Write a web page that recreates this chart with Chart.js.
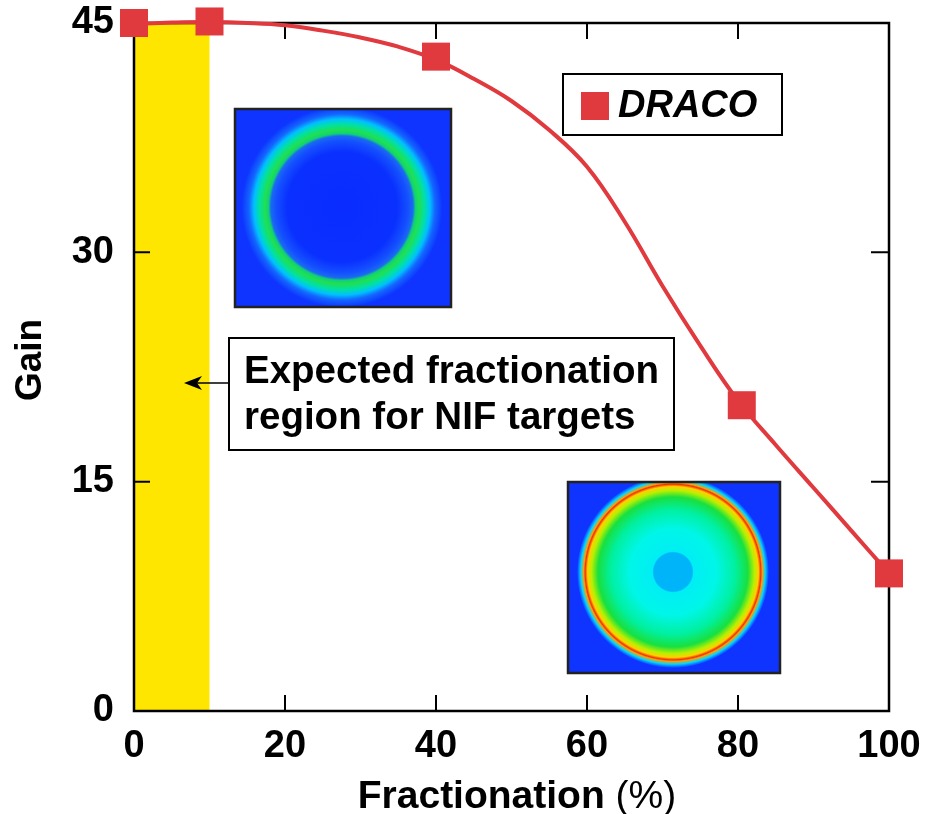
<!DOCTYPE html>
<html>
<head>
<meta charset="utf-8">
<script src="https://cdn.jsdelivr.net/npm/chart.js@4.4.1/dist/chart.umd.min.js"></script>
<style>
  html, body { margin: 0; padding: 0; background: #fff; }
  canvas { display: block; }
</style>
</head>
<body>
<canvas id="myChart" width="928" height="814"></canvas>
<script>
const fracPct = [0, 10, 40, 80.5, 100];
const gainDraco = [45.0, 45.1, 42.8, 20.0, 9.0];
// fitted curve
const fitFrac = [0, 5, 10, 15, 20, 25, 30, 35, 40, 45, 50, 55, 60, 65, 70, 75, 80, 85, 90, 95, 100];
const fitGain = [44.95, 45.03, 45.06, 45.0, 44.85, 44.5, 44.05, 43.45, 42.6, 41.35, 39.9, 38.0, 35.6, 32.0, 27.8, 23.9, 20.3, 17.4, 14.6, 11.8, 9.0];
const xTicks = [0, 20, 40, 60, 80, 100];
const yTicks = [0, 15, 30, 45];
const nifBand = [0, 10];

const FONT = "'Liberation Sans', Arial, Helvetica, sans-serif";
const RED = '#e0393e';
const ctx = document.getElementById('myChart');

const ringA = [
  [0, '#0a2cff'], [0.55, '#0a30ff'], [0.66, '#1450ff'], [0.71, '#1a6af0'],
  [0.735, '#10d078'], [0.77, '#20e050'], [0.83, '#00e0a8'], [0.88, '#00c0ff'],
  [0.93, '#1466ff'], [1, '#0c38ff']
];
const ringB = [
  [0, '#00b4fa'], [0.2, '#00b4fa'], [0.215, '#00eef4'], [0.45, '#00f6e8'],
  [0.65, '#00f0a0'], [0.78, '#18e040'], [0.85, '#b8f000'], [0.89, '#ffd000'],
  [0.915, '#f03000'], [0.93, '#ffa000'], [0.96, '#00d8ff'], [1, '#1034ff']
];

function inset(c, box, cx, cy, r, stops) {
  c.save();
  const g = c.createRadialGradient(cx, cy, 0, cx, cy, r);
  stops.forEach(s => g.addColorStop(s[0], s[1]));
  c.fillStyle = '#1034ff';
  c.fillRect(box[0], box[1], box[2], box[3]);
  c.beginPath();
  c.rect(box[0], box[1], box[2], box[3]);
  c.clip();
  c.fillStyle = g;
  c.beginPath();
  c.arc(cx, cy, r, 0, Math.PI * 2);
  c.fill();
  c.restore();
  c.save();
  c.strokeStyle = '#222';
  c.lineWidth = 2.5;
  c.strokeRect(box[0], box[1], box[2], box[3]);
  c.restore();
}

const decor = {
  id: 'decor',
  beforeDatasetsDraw(chart) {
    const c = chart.ctx, a = chart.chartArea;
    const x = chart.scales.x, y = chart.scales.y;
    c.save();
    c.fillStyle = '#ffe600';
    const x0 = x.getPixelForValue(nifBand[0]), x1 = x.getPixelForValue(nifBand[1]);
    c.fillRect(x0, a.top, x1 - x0, a.bottom - a.top);
    // frame + inward ticks
    c.strokeStyle = '#000';
    c.lineWidth = 2.5;
    c.strokeRect(a.left, a.top, a.right - a.left, a.bottom - a.top);
    c.lineWidth = 2;
    c.beginPath();
    xTicks.slice(1, -1).forEach(v => {
      const px = x.getPixelForValue(v);
      c.moveTo(px, a.bottom); c.lineTo(px, a.bottom - 16);
      c.moveTo(px, a.top); c.lineTo(px, a.top + 16);
    });
    yTicks.slice(1, -1).forEach(v => {
      const py = y.getPixelForValue(v);
      c.moveTo(a.left, py); c.lineTo(a.left + 16, py);
      c.moveTo(a.right, py); c.lineTo(a.right - 18, py);
    });
    c.stroke();
    c.restore();
    inset(c, [235, 109, 216, 198], 342, 207, 100, ringA);
    inset(c, [568, 482, 212, 191], 673, 572, 96, ringB);
  },
  afterDraw(chart) {
    const c = chart.ctx;
    c.save();
    // legend
    c.fillStyle = '#fff';
    c.fillRect(563, 74, 219, 61);
    c.strokeStyle = '#000';
    c.lineWidth = 2;
    c.strokeRect(563, 74, 219, 61);
    c.fillStyle = RED;
    c.fillRect(581, 92, 28, 28);
    c.fillStyle = '#000';
    c.font = "italic bold 38px " + FONT;
    c.textBaseline = 'middle';
    c.fillText(chart.data.datasets[0].label, 618, 107);
    // annotation
    c.fillStyle = '#fff';
    c.fillRect(229, 338, 445, 112);
    c.strokeRect(229, 338, 445, 112);
    c.fillStyle = '#000';
    c.font = "bold 38.5px " + FONT;
    c.textAlign = 'left';
    c.fillText('Expected fractionation', 244, 372);
    c.fillText('region for NIF targets', 244, 418);
    c.beginPath();
    c.moveTo(229, 383); c.lineTo(194, 383);
    c.lineWidth = 1.5;
    c.stroke();
    c.beginPath();
    c.moveTo(184, 383); c.lineTo(202, 376); c.lineTo(197, 383); c.lineTo(202, 390);
    c.closePath();
    c.fill();
    // y title
    c.save();
    c.translate(31, 360);
    c.rotate(-Math.PI / 2);
    c.textAlign = 'center';
    c.font = "bold 37px " + FONT;
    c.fillText('Gain', 0, 0);
    c.restore();
    // x title with mixed weights
    const t1 = 'Fractionation ', t2 = '(%)';
    c.font = "bold 39px " + FONT;
    const w1 = c.measureText(t1).width;
    c.font = "39px " + FONT;
    const w2 = c.measureText(t2).width;
    const sx = 517 - (w1 + w2) / 2;
    c.textAlign = 'left';
    c.textBaseline = 'alphabetic';
    c.font = "bold 39px " + FONT;
    c.fillText(t1, sx, 808);
    c.font = "39px " + FONT;
    c.fillText(t2, sx + w1, 808);
    c.restore();
  }
};

new Chart(ctx, {
  type: 'scatter',
  data: {
    datasets: [{
      label: 'DRACO',
      data: fracPct.map((v, i) => ({x: v, y: gainDraco[i]})),
      pointStyle: 'rect',
      pointRadius: 19.8,
      pointHoverRadius: 19.8,
      backgroundColor: RED,
      borderColor: RED,
      borderWidth: 0,
      clip: false,
      order: 0
    }, {
      label: 'fit',
      type: 'line',
      data: fitFrac.map((v, i) => ({x: v, y: fitGain[i]})),
      borderColor: RED,
      borderWidth: 4,
      pointRadius: 0,
      tension: 0.4,
      fill: false,
      clip: false,
      order: 1
    }]
  },
  options: {
    responsive: false,
    animation: false,
    layout: { padding: { left: 0, right: 39, top: 23, bottom: 0 } },
    plugins: { legend: { display: false }, tooltip: { enabled: false } },
    scales: {
      x: {
        type: 'linear', min: 0, max: 100,
        afterBuildTicks: s => { s.ticks = xTicks.map(v => ({value: v})); },
        afterFit: s => { s.height = 103; s.paddingLeft = 0; s.paddingRight = 0; },
        grid: { display: false, drawTicks: false },
        border: { display: false },
        ticks: { color: '#000', padding: 13, font: { family: FONT, size: 38, weight: 'bold' } }
      },
      y: {
        type: 'linear', min: 0, max: 45,
        afterBuildTicks: s => { s.ticks = yTicks.map(v => ({value: v})); },
        afterFit: s => { s.width = 134; s.paddingTop = 0; s.paddingBottom = 0; },
        grid: { display: false, drawTicks: false },
        border: { display: false },
        ticks: { color: '#000', padding: 20, font: { family: FONT, size: 38, weight: 'bold' } }
      }
    }
  },
  plugins: [decor]
});
</script>
</body>
</html>
